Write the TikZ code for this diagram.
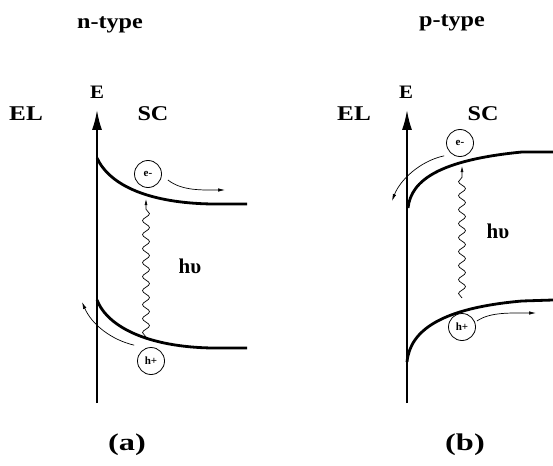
\documentclass[tikz,border=0pt]{standalone}
\usepackage{fontspec}
\setmainfont{Liberation Serif}
\usetikzlibrary{arrows.meta, calc, decorations.pathmorphing}
% text of the scan is a little wider than Times
\newcommand{\widetxt}[2]{\scalebox{#1}[1]{#2}}
\tikzset{
    axisline/.style={line width=1.8pt, -{Latex[length=20pt,width=10pt]}},
    bandline/.style={line width=2.8pt},
    carrier/.style={draw, circle, line width=0.8pt, minimum size=27pt, inner sep=0pt, font=\bfseries\fontsize{11}{11}\selectfont},
    flow/.style={line width=0.7pt, -{Latex[length=7pt,width=3.5pt]}},
    photon/.style={line width=0.7pt, -{Latex[length=6pt,width=3pt]},
        decorate, decoration={snake, amplitude=3.5pt, segment length=14pt, post length=10pt}},
    biglabel/.style={font=\bfseries\fontsize{21}{24}\selectfont},
    axlabel/.style={font=\bfseries\fontsize{19}{22}\selectfont},
    caplabel/.style={font=\bfseries\fontsize{24}{28}\selectfont},
}
\begin{document}
\begin{tikzpicture}[x=1pt, y=-1pt]
\useasboundingbox (0,0) rectangle (553,465);
% ---------- (a) n-type ----------
\coordinate (Abot) at (97,403);
\coordinate (Atop) at (97,110);
\draw[axisline] (Abot) -- (Atop);
\node[biglabel] (Atitle) at (110,25) {\widetxt{1.15}{n-type}};
\node[axlabel] (AE) at (97,92) {\widetxt{1.1}{E}};
\node[biglabel] (AEL) at (26,114) {\widetxt{1.2}{EL}};
\node[biglabel] (ASC) at (153,114) {\widetxt{1.15}{SC}};
% conduction band bends down into the bulk
\draw[bandline] (97,158) .. controls (110,186) and (150,203) .. (212,204) -- (247,204);
% valence band
\draw[bandline] (97,300) .. controls (108,328) and (150,347) .. (212,348) -- (247,348);
% carriers
\node[carrier] (Ae) at (148,174) {e-};
\node[carrier] (Ah) at (151,361) {h+};
\coordinate (AeEnd) at (225,190);
\draw[flow] (Ae.east) ++(6,6) .. controls (182,191) and (202,190) .. (AeEnd);
\coordinate (AhEnd) at (82,302);
\draw[flow] (Ah.north west) ++(-7,-6) .. controls (112,340) and (92,325) .. (AhEnd);
% photon
\coordinate (Aph1) at (146,337);
\coordinate (Aph2) at (146,199);
\draw[photon] (Aph1) -- (Aph2);
\node[font=\bfseries\fontsize{21}{24}\selectfont] (Ahv) at (190,266) {hυ};
\node[caplabel] (Acap) at (127,445) {\widetxt{1.35}{(a)}};
% ---------- (b) p-type ----------
\coordinate (Bbot) at (407,403);
\coordinate (Btop) at (407,110);
\draw[axisline] (Bbot) -- (Btop);
\node[biglabel] (Btitle) at (452,23) {\widetxt{1.15}{p-type}};
\node[axlabel] (BE) at (406,92) {\widetxt{1.1}{E}};
\node[biglabel] (BEL) at (354,114) {\widetxt{1.2}{EL}};
\node[biglabel] (BSC) at (483,114) {\widetxt{1.15}{SC}};
% conduction band bends up into the bulk
\draw[bandline] (408,208) .. controls (411,180) and (440,160) .. (522,152) -- (553,152);
% valence band
\draw[bandline] (407,362) .. controls (410,330) and (442,308) .. (522,301) -- (553,300);
% carriers
\node[carrier] (Be) at (460,143) {e-};
\node[carrier] (Bh) at (462,327) {h+};
\coordinate (BeEnd) at (392,201);
\draw[flow] (Be.south west) ++(-6,3) .. controls (420,161) and (400,180) .. (BeEnd);
\coordinate (BhEnd) at (536,313);
\draw[flow] (Bh.east) ++(1,-6) .. controls (490,312) and (510,313) .. (BhEnd);
% photon
\coordinate (Bph1) at (462,298);
\coordinate (Bph2) at (462,166);
\draw[photon] (Bph1) -- (Bph2);
\node[font=\bfseries\fontsize{21}{24}\selectfont] (Bhv) at (498,231) {hυ};
\node[caplabel] (Bcap) at (465,445) {\widetxt{1.35}{(b)}};
\end{tikzpicture}
\end{document}
